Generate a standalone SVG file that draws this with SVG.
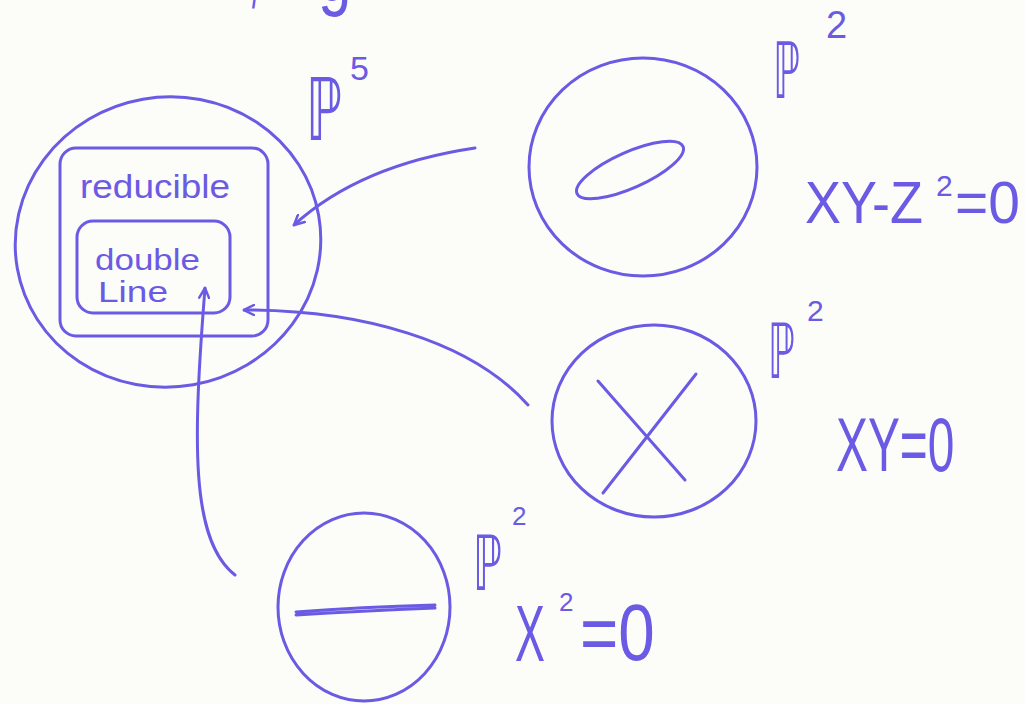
<svg xmlns="http://www.w3.org/2000/svg" width="1025" height="704" viewBox="0 0 1025 704">
<style>
.s{fill:none;stroke:#6a5ae4;stroke-width:3;stroke-linecap:round;stroke-linejoin:round}
.t{fill:#6a5ae4;font-family:"Liberation Sans",Arial,sans-serif}
.p{fill:#6a5ae4;font-family:"DejaVu Sans",sans-serif}
</style>
<defs>
<marker id="ah" viewBox="0 0 12 12" refX="11" refY="6" markerWidth="12" markerHeight="12" markerUnits="userSpaceOnUse" orient="auto">
<path d="M1,1 L11,6 L1,11" fill="none" stroke="#6a5ae4" stroke-width="2.5" stroke-linecap="round"/>
</marker>
</defs>
<rect width="1025" height="704" fill="#fcfcf8"/>
<g id="fragments">
<text class="t" transform="translate(252,8) scale(0.5,1)" font-size="60">/</text>
<text class="t" transform="translate(318,0) scale(0.75,1)" font-size="80">g</text>
</g>
<g id="p5">
<ellipse class="s" cx="168" cy="242" rx="153" ry="145" transform="rotate(-10 168 242)"/>
<text class="p" transform="translate(306,140) scale(0.6,1)" font-size="86">ℙ</text>
<text class="t" x="350" y="80" font-size="34">5</text>
</g>
<g id="reducible">
<rect class="s" x="60" y="148" width="208" height="188" rx="16"/>
<text class="t" x="80" y="198" font-size="34" textLength="150" lengthAdjust="spacingAndGlyphs">reducible</text>
</g>
<g id="double-line">
<rect class="s" x="77" y="221" width="153" height="92" rx="16"/>
<text class="t" x="95" y="270" font-size="30" textLength="105" lengthAdjust="spacingAndGlyphs">double</text>
<text class="t" x="98" y="302" font-size="30" textLength="70" lengthAdjust="spacingAndGlyphs">Line</text>
</g>
<g id="conic">
<ellipse class="s" cx="643" cy="167" rx="114" ry="109"/>
<ellipse class="s" cx="630" cy="170" rx="58" ry="18" transform="rotate(-24 630 170)"/>
<text class="p" transform="translate(773,98) scale(0.49,1)" font-size="78">ℙ</text>
<text class="t" x="826" y="38" font-size="38">2</text>
<text class="t" transform="translate(805,223) scale(0.9,1)" font-size="60">XY-Z</text>
<text class="t" x="936" y="196" font-size="30">2</text>
<text class="t" transform="translate(955,223) scale(0.95,1)" font-size="60">=0</text>
</g>
<g id="cross">
<ellipse class="s" cx="654" cy="421" rx="102" ry="96"/>
<path class="s" d="M598,381 L685,480 M696,374 L603,493"/>
<text class="p" transform="translate(768,378) scale(0.5,1)" font-size="76">ℙ</text>
<text class="t" x="807" y="321" font-size="30">2</text>
<text class="t" transform="translate(836,471) scale(0.63,1)" font-size="76">XY=0</text>
</g>
<g id="doubleline-conic">
<ellipse class="s" cx="364" cy="607" rx="86" ry="94"/>
<path class="s" d="M296,612 Q360,607 435,605 M296,615 Q360,611 435,608" stroke-width="3.5"/>
<text class="p" transform="translate(473,590) scale(0.54,1)" font-size="76">ℙ</text>
<text class="t" x="512" y="525" font-size="26">2</text>
<text class="t" transform="translate(515,661) scale(0.56,1)" font-size="80">X</text>
<text class="t" x="559" y="611" font-size="26">2</text>
<text class="t" transform="translate(580,660) scale(0.82,1)" font-size="80">=0</text>
</g>
<g id="connectors">
<path class="s" d="M475,148 Q360,165 294,225" marker-end="url(#ah)"/>
<path class="s" d="M528,405 C470,340 360,310 244,310" marker-end="url(#ah)"/>
<path class="s" d="M235,575 C190,540 193,440 205,288" marker-end="url(#ah)"/>
</g>
</svg>
